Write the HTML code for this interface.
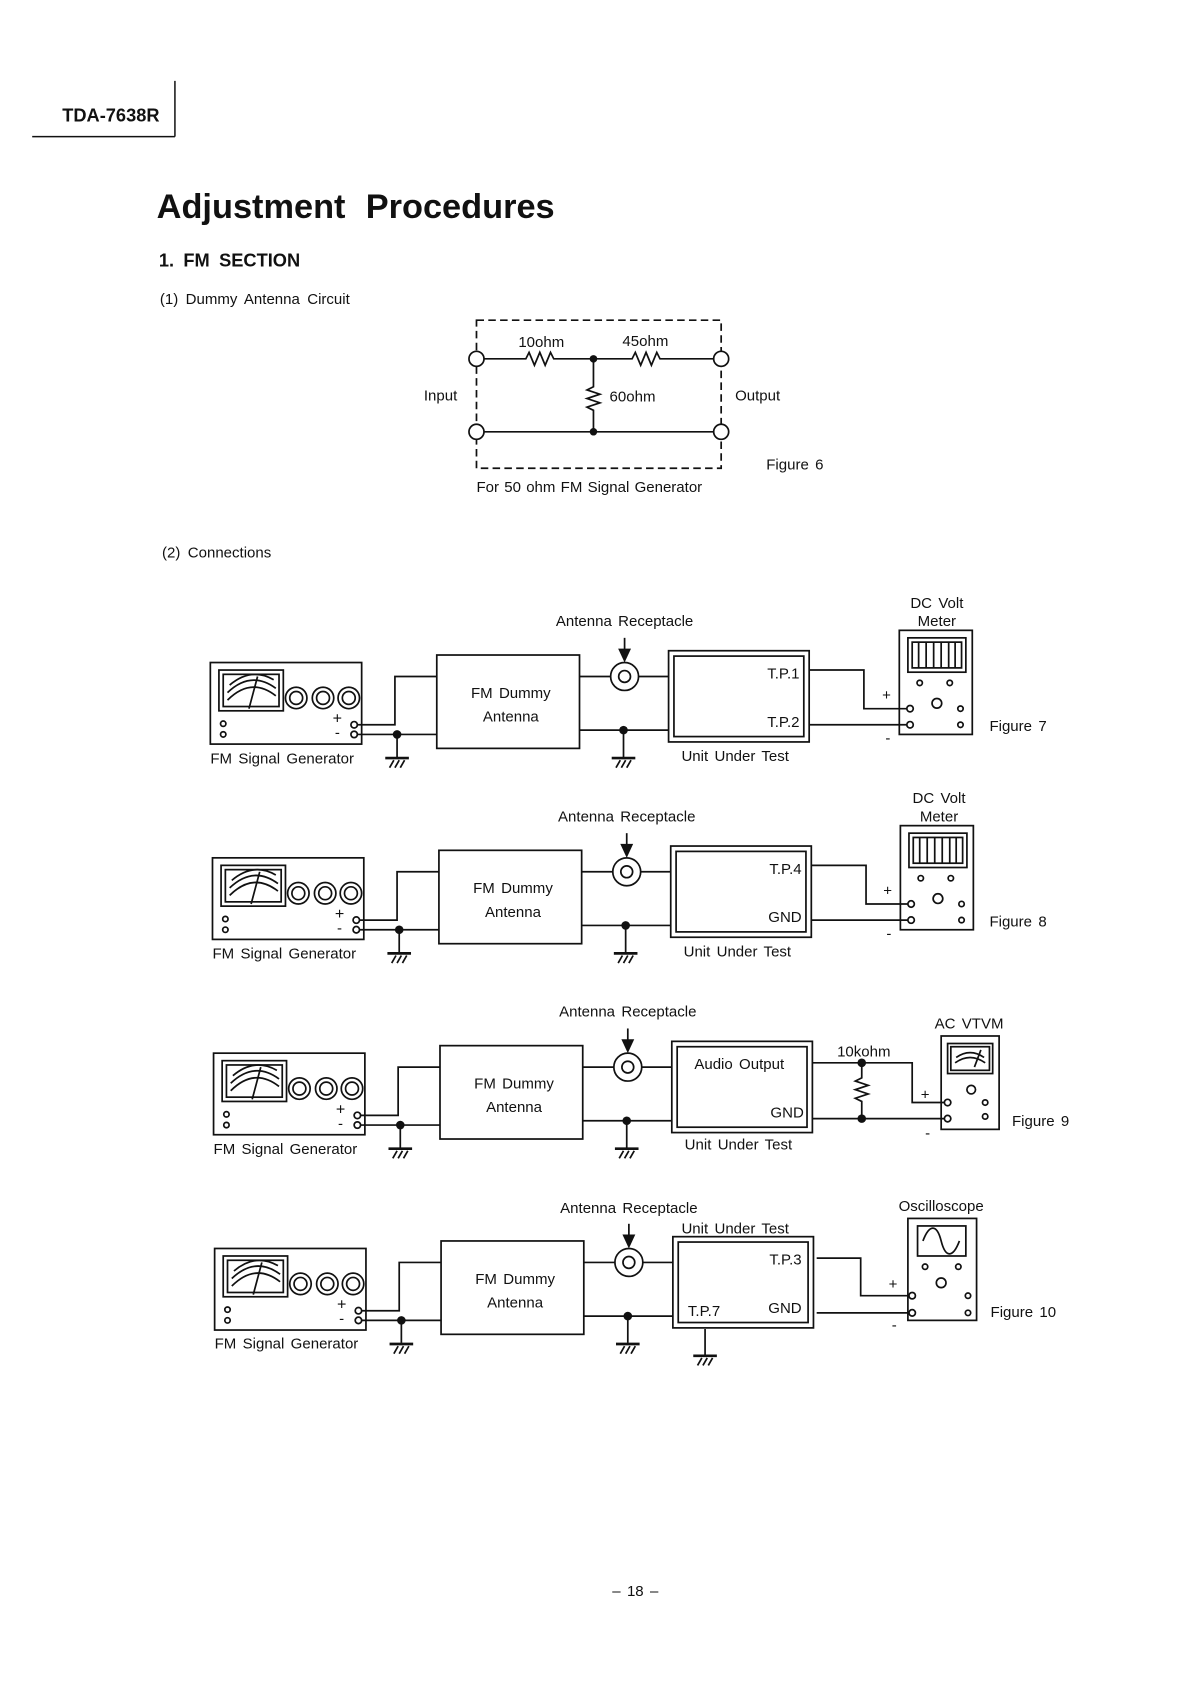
<!DOCTYPE html>
<html><head><meta charset="utf-8"><style>
html,body{margin:0;padding:0;background:#fff;}
svg{display:block;}
text{font-family:"Liberation Sans",sans-serif;fill:#111;}
</style></head><body>
<svg width="1190" height="1683" viewBox="0 0 1100 1555" xmlns="http://www.w3.org/2000/svg">
<defs>
<g id="gnd" stroke="#111" stroke-width="2" fill="none">
<line x1="-11" y1="0" x2="11" y2="0" stroke-width="2.5"/>
<path d="M-7,9 L-3,2 M-2,9 L2,2 M3,9 L7,2" stroke-width="1.6"/>
</g>
<g id="row" stroke="#111" stroke-width="1.6" fill="none">
<rect x="196" y="617" width="141" height="76"/>
<rect x="204" y="624" width="60" height="38"/>
<rect x="208" y="628" width="52" height="30"/>
<path d="M212,652 Q234,630 257,648 M212,645 Q234,624 257,641 M214,638 Q234,621 255,633"/>
<line x1="232" y1="660" x2="240" y2="630"/>
<circle cx="276" cy="650" r="10"/><circle cx="276" cy="650" r="6"/>
<circle cx="301" cy="650" r="10"/><circle cx="301" cy="650" r="6"/>
<circle cx="325" cy="650" r="10"/><circle cx="325" cy="650" r="6"/>
<circle cx="208" cy="674" r="2.5"/><circle cx="208" cy="684" r="2.5"/>
<circle cx="330" cy="675" r="3"/><circle cx="330" cy="684" r="3"/>
<path d="M333,675 H368 V630 H407 M333,684 H407 M370,684 V705"/>
<rect x="407" y="610" width="133" height="87"/>
<path d="M540,630 H569 M595,630 H623 M540,680 H623 M581,680 V705"/>
<circle cx="582" cy="630" r="13"/><circle cx="582" cy="630" r="5.5"/>
<line x1="582" y1="594" x2="582" y2="606"/>
<rect x="623" y="606" width="131" height="85"/>
<rect x="628" y="611" width="121" height="75"/>
</g>
<g id="rowfill" fill="#111">
<circle cx="370" cy="684" r="4"/><circle cx="581" cy="680" r="4"/>
<path d="M576,604 L588,604 L582,617 Z"/>
</g>
<g id="meter" stroke="#111" stroke-width="1.6" fill="none">
<rect x="838" y="587" width="68" height="97"/>
<rect x="846" y="594" width="54" height="32"/>
<rect x="850" y="598" width="46" height="24"/>
<path d="M856,598 V622 M863,598 V622 M870,598 V622 M877,598 V622 M884,598 V622 M890,598 V622"/>
<circle cx="857" cy="636" r="2.5"/><circle cx="885" cy="636" r="2.5"/>
<circle cx="873" cy="655" r="4.5"/>
<circle cx="848" cy="660" r="3"/><circle cx="895" cy="660" r="2.5"/>
<circle cx="848" cy="675" r="3"/><circle cx="895" cy="675" r="2.5"/>
</g>
</defs>
<g transform="scale(0.992)">
<text x="58" y="113" font-size="17" font-weight="bold">TDA-7638R</text>
<path d="M163,75 V127 M30,127 H163" stroke="#111" stroke-width="1.4"/>
<text x="146" y="203" font-size="32" font-weight="bold" word-spacing="10">Adjustment Procedures</text>
<text x="148" y="248" font-size="17" font-weight="bold" word-spacing="4">1. FM SECTION</text>
<text x="149" y="283" font-size="14" word-spacing="3">(1) Dummy Antenna Circuit</text>

<g stroke="#111" stroke-width="1.6" fill="none">
<rect x="444" y="298" width="228" height="138" stroke-dasharray="7,4"/>
<path d="M451,334 H490 l3,-6 l5,12 l5,-12 l5,12 l5,-12 l3,6 H589 l3,-6 l5,12 l5,-12 l5,12 l5,-12 l3,6 H665"/>
<path d="M553,334 V360 l-6,3 l12,4 l-12,4 l12,4 l-12,4 l6,3 V402"/>
<path d="M451,402 H665"/>
</g>
<g fill="#fff" stroke="#111" stroke-width="1.6">
<circle cx="444" cy="334" r="7"/><circle cx="444" cy="402" r="7"/>
<circle cx="672" cy="334" r="7"/><circle cx="672" cy="402" r="7"/>
</g>
<circle cx="553" cy="334" r="3.5" fill="#111"/><circle cx="553" cy="402" r="3.5" fill="#111"/>
<g font-size="14">
<text x="483" y="323">10ohm</text><text x="580" y="322">45ohm</text>
<text x="568" y="374">60ohm</text><text x="395" y="373">Input</text>
<text x="685" y="373">Output</text><text x="714" y="437" word-spacing="2">Figure 6</text>
<text x="444" y="458" word-spacing="1">For 50 ohm FM Signal Generator</text>
<text x="151" y="519" word-spacing="3">(2) Connections</text>
</g>

<g><use href="#row"/><use href="#rowfill"/><use href="#gnd" x="370" y="706"/><use href="#gnd" x="581" y="706"/></g>
<g transform="translate(2,182)"><use href="#row"/><use href="#rowfill"/><use href="#gnd" x="370" y="706"/><use href="#gnd" x="581" y="706"/></g>
<g transform="translate(3,364)"><use href="#row"/><use href="#rowfill"/><use href="#gnd" x="370" y="706"/><use href="#gnd" x="581" y="706"/></g>
<g transform="translate(4,546)"><use href="#row"/><use href="#rowfill"/><use href="#gnd" x="370" y="706"/><use href="#gnd" x="581" y="706"/></g>

<use href="#meter"/>
<use href="#meter" transform="translate(1,182)"/>
<g stroke="#111" stroke-width="1.6" fill="none">
<path d="M754,624 H805 V660 H845 M754,675 H845"/>
<path d="M756,806 H807 V842 H846 M756,857 H846"/>
<path d="M757,990 H850 V1027 H880 M757,1042 H880"/>
<path d="M803,990 V1004 l-6,3 l12,4 l-12,4 l12,4 l-12,4 l6,3 V1042"/>
<rect x="877" y="965" width="54" height="87"/>
<rect x="883" y="972" width="42" height="28"/>
<rect x="886" y="975" width="36" height="22"/>
<path d="M890,990 Q904,980 918,990 M891,985 Q904,976 917,985 M908,994 L914,978"/>
<circle cx="905" cy="1015" r="4"/><circle cx="918" cy="1027" r="2.5"/><circle cx="918" cy="1040" r="2.5"/>
<circle cx="883" cy="1027" r="3"/><circle cx="883" cy="1042" r="3"/>
<path d="M761,1172 H802 V1207 H846 M761,1223 H846 M657,1238 V1262"/>
<rect x="846" y="1135" width="64" height="95"/>
<rect x="855" y="1142" width="45" height="28"/>
<path d="M860,1156 C866,1140 873,1140 877,1156 C881,1172 888,1172 894,1156"/>
<circle cx="862" cy="1180" r="2.5"/><circle cx="893" cy="1180" r="2.5"/>
<circle cx="877" cy="1195" r="4.5"/>
<circle cx="850" cy="1207" r="3"/><circle cx="902" cy="1207" r="2.5"/>
<circle cx="850" cy="1223" r="3"/><circle cx="902" cy="1223" r="2.5"/>
</g>
<circle cx="803" cy="990" r="4" fill="#111"/><circle cx="803" cy="1042" r="4" fill="#111"/>
<use href="#gnd" x="657" y="1263"/>

<g font-size="14" word-spacing="2">
<text x="582" y="583" text-anchor="middle">Antenna Receptacle</text>
<text x="476" y="650" text-anchor="middle">FM Dummy</text>
<text x="476" y="672" text-anchor="middle">Antenna</text>
<text x="196" y="711">FM Signal Generator</text>
<text x="310" y="674" font-size="15">+</text><text x="312" y="687">-</text>
<text x="745" y="632" text-anchor="end">T.P.1</text>
<text x="745" y="677" text-anchor="end">T.P.2</text>
<text x="635" y="709">Unit Under Test</text>
<text x="822" y="652">+</text><text x="825" y="692">-</text>
<text x="873" y="566" text-anchor="middle">DC Volt</text>
<text x="873" y="583" text-anchor="middle">Meter</text>
<text x="922" y="681">Figure 7</text>
<text x="584" y="765" text-anchor="middle">Antenna Receptacle</text>
<text x="478" y="832" text-anchor="middle">FM Dummy</text>
<text x="478" y="854" text-anchor="middle">Antenna</text>
<text x="198" y="893">FM Signal Generator</text>
<text x="312" y="856" font-size="15">+</text><text x="314" y="869">-</text>
<text x="747" y="814" text-anchor="end">T.P.4</text>
<text x="747" y="859" text-anchor="end">GND</text>
<text x="637" y="891">Unit Under Test</text>
<text x="823" y="834">+</text><text x="826" y="874">-</text>
<text x="875" y="748" text-anchor="middle">DC Volt</text>
<text x="875" y="765" text-anchor="middle">Meter</text>
<text x="922" y="863">Figure 8</text>
<text x="585" y="947" text-anchor="middle">Antenna Receptacle</text>
<text x="479" y="1014" text-anchor="middle">FM Dummy</text>
<text x="479" y="1036" text-anchor="middle">Antenna</text>
<text x="199" y="1075">FM Signal Generator</text>
<text x="313" y="1038" font-size="15">+</text><text x="315" y="1051">-</text>
<text x="647" y="996">Audio Output</text>
<text x="749" y="1041" text-anchor="end">GND</text>
<text x="638" y="1071">Unit Under Test</text>
<text x="780" y="984">10kohm</text>
<text x="858" y="1024">+</text><text x="862" y="1060">-</text>
<text x="903" y="958" text-anchor="middle">AC VTVM</text>
<text x="943" y="1049">Figure 9</text>
<text x="586" y="1130" text-anchor="middle">Antenna Receptacle</text>
<text x="480" y="1196" text-anchor="middle">FM Dummy</text>
<text x="480" y="1218" text-anchor="middle">Antenna</text>
<text x="200" y="1256">FM Signal Generator</text>
<text x="314" y="1220" font-size="15">+</text><text x="316" y="1233">-</text>
<text x="635" y="1149">Unit Under Test</text>
<text x="747" y="1178" text-anchor="end">T.P.3</text>
<text x="641" y="1226">T.P.7</text>
<text x="747" y="1223" text-anchor="end">GND</text>
<text x="828" y="1201">+</text><text x="831" y="1239">-</text>
<text x="877" y="1128" text-anchor="middle">Oscilloscope</text>
<text x="923" y="1227">Figure 10</text>
<text x="592" y="1487" text-anchor="middle">– 18 –</text>
</g>
</g>
</svg>
</body></html>
